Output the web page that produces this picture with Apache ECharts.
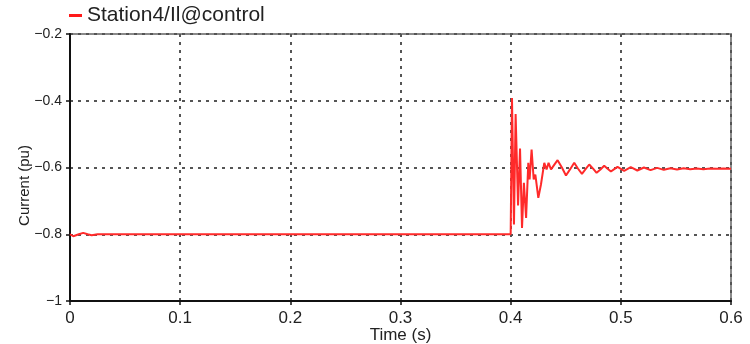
<!DOCTYPE html>
<html>
<head>
<meta charset="utf-8">
<script src="https://cdn.jsdelivr.net/npm/echarts@6/dist/echarts.min.js"></script>
<style>html,body{margin:0;padding:0;background:#fff;}#c{width:750px;height:344px;}</style>
</head>
<body>
<div id="c"></div>
<script>
var seriesName = 'Station4/Il@control';
var xTicks = [0, 0.1, 0.2, 0.3, 0.4, 0.5, 0.6];
var yTicks = [-1, -0.8, -0.6, -0.4, -0.2];
var timeS = [0, 0.003, 0.008, 0.012, 0.016, 0.0197, 0.025, 0.1, 0.2, 0.3, 0.4,
  0.4012, 0.403, 0.4045, 0.4067, 0.4085, 0.4103, 0.412, 0.414, 0.416, 0.4172, 0.419,
  0.4209, 0.4224, 0.4251, 0.4275, 0.4305, 0.4326, 0.4344, 0.4366, 0.4395, 0.4426,
  0.4465, 0.4502, 0.454, 0.4577, 0.461, 0.4647, 0.468, 0.4713, 0.475, 0.478, 0.4815,
  0.4849, 0.488, 0.491, 0.494, 0.497, 0.503, 0.509, 0.515, 0.521, 0.527, 0.533,
  0.539, 0.545, 0.551, 0.557, 0.563, 0.569, 0.575, 0.581, 0.587, 0.593, 0.6];
var currentPu = [-0.800, -0.806, -0.800, -0.796, -0.800, -0.803, -0.800, -0.800, -0.800, -0.800, -0.800,
  -0.392, -0.771, -0.440, -0.714, -0.543, -0.781, -0.646, -0.751, -0.586, -0.636, -0.546,
  -0.636, -0.621, -0.691, -0.651, -0.586, -0.606, -0.586, -0.606, -0.592, -0.578,
  -0.600, -0.624, -0.605, -0.586, -0.603, -0.619, -0.605, -0.591, -0.604, -0.616, -0.606,
  -0.595, -0.604, -0.612, -0.605, -0.598, -0.610, -0.599, -0.609, -0.600, -0.608, -0.601,
  -0.607, -0.602, -0.606, -0.602, -0.605, -0.603, -0.605, -0.603, -0.604, -0.603, -0.604];

var data = timeS.map(function (t, i) { return [t, currentPu[i]]; });
var chart = echarts.init(document.getElementById('c'), null, {renderer: 'canvas'});
var font = 'Liberation Sans, Arial, sans-serif';
chart.setOption({
  animation: false,
  backgroundColor: '#fff',
  textStyle: {fontFamily: font},
  legend: {
    left: 69, top: 5, padding: 0,
    icon: 'rect', itemWidth: 13, itemHeight: 3,
    textStyle: {fontSize: 21, color: '#222', fontFamily: font, lineHeight: 21},
    data: [{name: seriesName, itemStyle: {color: '#ff1a1a'}}]
  },
  grid: {left: 70, right: 19, top: 34, bottom: 43, containLabel: false, outerBoundsMode: 'none',
    show: true, borderColor: '#8a8a8a', borderWidth: 2},
  xAxis: {
    type: 'value', min: xTicks[0], max: xTicks[xTicks.length - 1], interval: 0.1,
    name: 'Time (s)', nameLocation: 'middle', nameGap: 26, nameMoveOverlap: false,
    nameTextStyle: {fontSize: 17, color: '#222', fontFamily: font},
    axisLine: {show: true, onZero: false, lineStyle: {color: '#111', width: 2}},
    axisTick: {show: true, length: 4, lineStyle: {color: '#111', width: 1.5}},
    axisLabel: {fontSize: 17, color: '#222', margin: 9, fontFamily: font,
      formatter: function (v) { return String(+v.toFixed(1)); }},
    splitLine: {show: true, lineStyle: {color: '#555', width: 2, type: [3, 5]}}
  },
  yAxis: {
    type: 'value', min: yTicks[0], max: yTicks[yTicks.length - 1], interval: 0.2,
    name: 'Current (pu)', nameLocation: 'middle', nameGap: 38, nameRotate: 90, nameMoveOverlap: false,
    nameTextStyle: {fontSize: 15, color: '#222', fontFamily: font, padding: [0, 0, 0, -36]},
    axisLine: {show: true, onZero: false, lineStyle: {color: '#111', width: 2}},
    axisTick: {show: true, length: 4, lineStyle: {color: '#111', width: 1.5}},
    axisLabel: {fontSize: 14, color: '#222', margin: 8, fontFamily: font,
      formatter: function (v) { return String(+v.toFixed(1)).replace('-', '\u2212'); }},
    splitLine: {show: true, lineStyle: {color: '#555', width: 2, type: [3, 5]}}
  },
  series: [{
    name: seriesName, type: 'line', data: data, showSymbol: false, symbol: 'none',
    lineStyle: {color: '#ff2a2a', width: 2}, itemStyle: {color: '#ff1a1a'},
    clip: true, z: 3
  }]
});
</script>
</body>
</html>
